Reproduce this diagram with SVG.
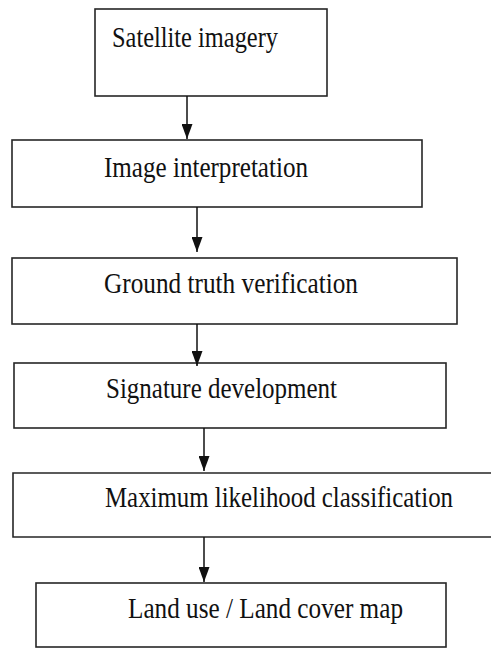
<svg xmlns="http://www.w3.org/2000/svg" width="491" height="649" viewBox="0 0 491 649">
  <style>
    .box { fill: #ffffff; stroke: #262626; stroke-width: 1.6; }
    .label { font-family: "Liberation Serif", "Times New Roman", serif; font-size: 30px; fill: #111111; }
    .link { stroke: #111111; stroke-width: 1.5; fill: none; marker-end: url(#head); }
  </style>
  <defs>
    <marker id="head" viewBox="0 0 15 11" refX="15" refY="5.5" markerWidth="15" markerHeight="11" markerUnits="userSpaceOnUse" orient="auto">
      <path d="M0,0 L15,5.5 L0,11 z" fill="#111111"/>
    </marker>
  </defs>
  <rect width="491" height="649" fill="#ffffff"/>

  <g id="satellite-imagery">
    <rect class="box" x="95" y="9" width="232" height="87"/>
    <text class="label" x="112" y="47" textLength="166" lengthAdjust="spacingAndGlyphs">Satellite imagery</text>
  </g>

  <g id="image-interpretation">
    <rect class="box" x="12" y="140" width="410" height="67"/>
    <text class="label" x="104" y="177" textLength="204" lengthAdjust="spacingAndGlyphs">Image interpretation</text>
  </g>

  <g id="ground-truth">
    <rect class="box" x="12" y="258" width="445" height="66"/>
    <text class="label" x="104" y="293" textLength="254" lengthAdjust="spacingAndGlyphs">Ground truth verification</text>
  </g>

  <g id="signature-development">
    <rect class="box" x="14" y="363" width="432" height="65"/>
    <text class="label" x="106" y="398" textLength="231" lengthAdjust="spacingAndGlyphs">Signature development</text>
  </g>

  <g id="ml-classification">
    <!-- this box runs off the right edge of the page, so only three sides are drawn -->
    <path class="box" d="M491,473 H13 V537 H491"/>
    <text class="label" x="105" y="507" textLength="348" lengthAdjust="spacingAndGlyphs">Maximum likelihood classification</text>
  </g>

  <g id="land-cover-map">
    <rect class="box" x="36" y="583" width="410" height="64"/>
    <text class="label" x="128" y="618" textLength="275" lengthAdjust="spacingAndGlyphs">Land use / Land cover map</text>
  </g>

  <g id="connectors">
    <line class="link" x1="187" y1="96" x2="187" y2="139"/>
    <line class="link" x1="197" y1="207" x2="197" y2="252"/>
    <line class="link" x1="197" y1="324" x2="197" y2="366"/>
    <line class="link" x1="204" y1="428" x2="204" y2="471"/>
    <line class="link" x1="204" y1="537" x2="204" y2="582"/>
  </g>
</svg>
